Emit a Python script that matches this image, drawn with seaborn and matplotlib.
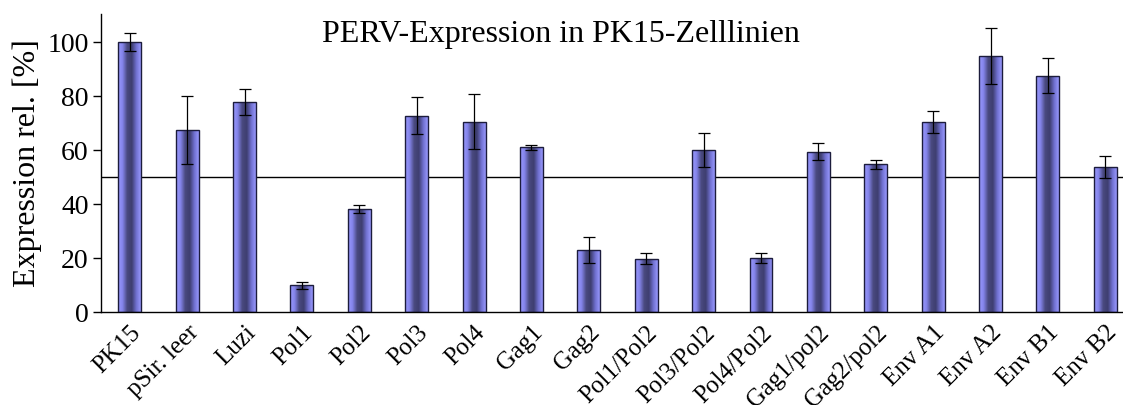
import numpy as np
import pandas as pd
import matplotlib
matplotlib.use("Agg")
import matplotlib.pyplot as plt
from matplotlib.colors import LinearSegmentedColormap
import seaborn as sns

# data
labels = ["PK15", "pSir. leer", "Luzi", "Pol1", "Pol2", "Pol3", "Pol4", "Gag1", "Gag2",
          "Pol1/Pol2", "Pol3/Pol2", "Pol4/Pol2", "Gag1/pol2", "Gag2/pol2",
          "Env A1", "Env A2", "Env B1", "Env B2"]
expression = [100, 67.5, 77.7, 10, 38.2, 72.8, 70.6, 61, 22.9,
              19.8, 60.1, 20, 59.4, 54.8, 70.4, 94.9, 87.6, 53.6]
errors = [3.3, 12.6, 4.8, 1.3, 1.5, 6.9, 10.1, 0.9, 4.9,
          2.0, 6.3, 2.0, 3.2, 1.6, 4.1, 10.5, 6.5, 4.1]
reference_line = 50

sns.set_theme(style="white")
plt.rcParams["font.family"] = ["Liberation Serif", "DejaVu Serif"]
plt.rcParams["text.color"] = "black"
plt.rcParams["axes.labelcolor"] = "black"
plt.rcParams["xtick.color"] = "black"
plt.rcParams["ytick.color"] = "black"

df = pd.DataFrame({"probe": labels, "expr": expression})

fig = plt.figure(figsize=(11.23, 4.05), dpi=100)
ax = fig.add_axes([0.09, 0.2296, 0.93, 0.736])

sns.barplot(data=df, x="probe", y="expr", ax=ax, width=0.4, color="#8c8cf0",
            edgecolor="#1c1c3c", linewidth=1.0, errorbar=None, zorder=2)

# horizontal gradient inside each bar (light edges, dark middle)
cmap = LinearSegmentedColormap.from_list(
    "bar", ["#9a9aff", "#8484ea", "#4a4a80", "#3e3e70", "#7070d0", "#9a9aff"])
grad = np.linspace(0, 1, 256).reshape(1, -1)
for p in ax.patches:
    x0, w, h = p.get_x(), p.get_width(), p.get_height()
    im = ax.imshow(grad, extent=[x0, x0 + w, 0, h], aspect="auto", cmap=cmap,
                   origin="lower", zorder=2.5)
    im.set_clip_path(p)
    p.set_facecolor("none")
    p.set_zorder(3)

centers = [p.get_x() + p.get_width() / 2 for p in ax.patches]
ax.errorbar(centers, expression, yerr=errors, fmt="none", ecolor="black",
            elinewidth=0.9, capsize=4, capthick=0.9, zorder=4)

ax.axhline(reference_line, color="black", lw=1.0, zorder=1)

ax.set_xlim(-0.5, 17.7)
ax.set_ylim(0, 110.5)
ax.set_yticks([0, 20, 40, 60, 80, 100])
ax.tick_params(axis="y", direction="out", length=6, width=1,
               labelsize=20, pad=3, left=True)
ax.tick_params(axis="x", length=0, labelsize=18, pad=7)
for lab in ax.get_xticklabels():
    lab.set_rotation(45)
    lab.set_ha("right")
    lab.set_rotation_mode("anchor")

ax.set_xlabel("")
ax.set_ylabel("Expression rel. [%]", fontsize=23, labelpad=4)
ax.text(0.44, 0.93, "PERV-Expression in PK15-Zelllinien", transform=ax.transAxes,
        ha="center", va="center", fontsize=23)

sns.despine(ax=ax, top=True, right=True)
for s in ("left", "bottom"):
    ax.spines[s].set_color("black")
    ax.spines[s].set_linewidth(1.0)

fig.savefig("out.png", dpi=100)
